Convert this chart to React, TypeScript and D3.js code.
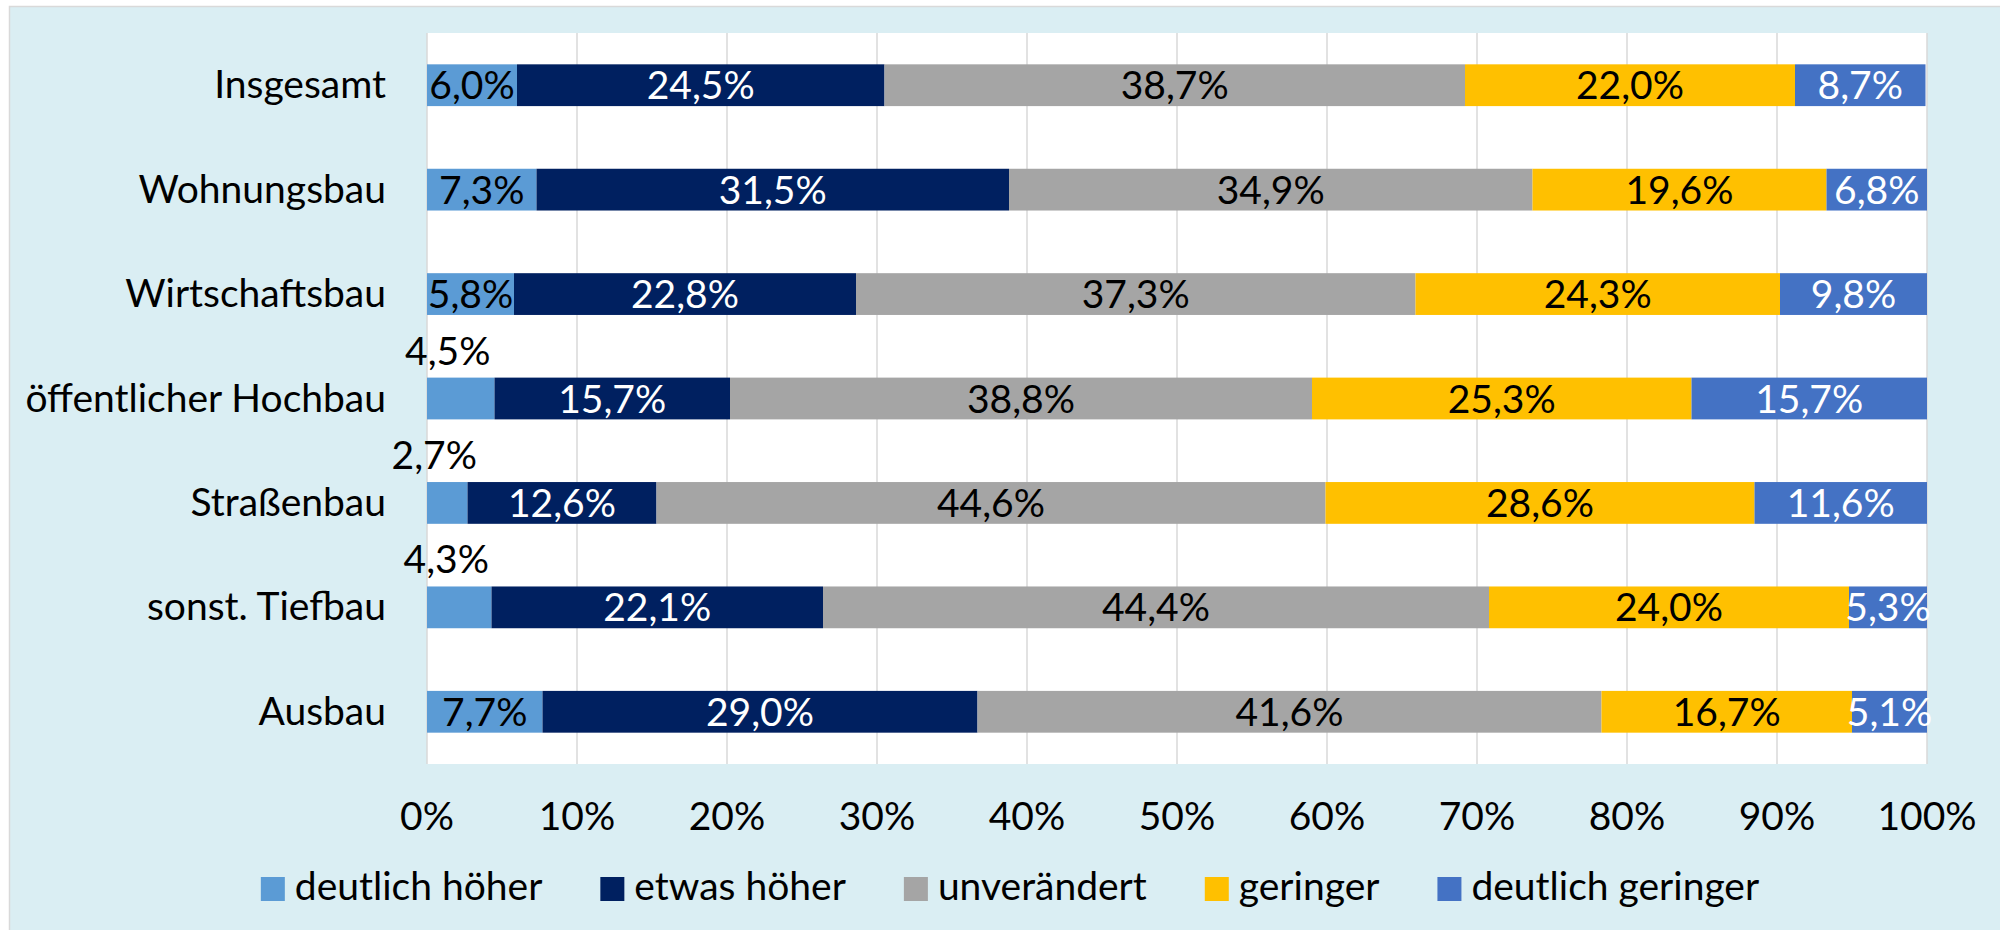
import React, { useLayoutEffect, useRef, useState } from "react";
import * as d3 from "d3";

const categories = [
  "Insgesamt",
  "Wohnungsbau",
  "Wirtschaftsbau",
  "öffentlicher Hochbau",
  "Straßenbau",
  "sonst. Tiefbau",
  "Ausbau",
];
const seriesNames = ["deutlich höher", "etwas höher", "unverändert", "geringer", "deutlich geringer"];
const deutlichHoeher = [6.0, 7.3, 5.8, 4.5, 2.7, 4.3, 7.7];
const etwasHoeher = [24.5, 31.5, 22.8, 15.7, 12.6, 22.1, 29.0];
const unveraendert = [38.7, 34.9, 37.3, 38.8, 44.6, 44.4, 41.6];
const geringer = [22.0, 19.6, 24.3, 25.3, 28.6, 24.0, 16.7];
const deutlichGeringer = [8.7, 6.8, 9.8, 15.7, 11.6, 5.3, 5.1];
const xTicks = [0, 10, 20, 30, 40, 50, 60, 70, 80, 90, 100];

const seriesValues = [deutlichHoeher, etwasHoeher, unveraendert, geringer, deutlichGeringer];
const colors = ["#5B9BD5", "#002060", "#A5A5A5", "#FFC000", "#4472C4"];
const labelColors = ["#000000", "#FFFFFF", "#000000", "#000000", "#FFFFFF"];

const W = 2000;
const H = 930;
const FONT = "Lato, 'Open Sans', sans-serif";
const FS = 39;

const fmt = (v: number) => v.toFixed(1).replace(".", ",") + "%";

export default function App() {
  const x = d3.scaleLinear().domain([0, 100]).range([427, 1927]);
  const y = d3
    .scaleBand<string>()
    .domain(categories)
    .range([33, 764])
    .paddingInner(0.6)
    .paddingOuter(0.3);

  const rows = categories.map((c, i) => {
    const obj: any = { cat: c };
    seriesNames.forEach((s, k) => (obj[s] = seriesValues[k][i]));
    return obj;
  });
  const stack = d3.stack<any>().keys(seriesNames)(rows);

  const legendRefs = useRef<(SVGTextElement | null)[]>([]);
  const [widths, setWidths] = useState<number[] | null>(null);
  useLayoutEffect(() => {
    const w = legendRefs.current.map((t) => (t ? t.getComputedTextLength() : 0));
    setWidths(w);
  }, []);

  const sq = 24;
  const sqGap = 10;
  const itemGap = 58;
  const legendCenter = 1010;
  let legendX: number[] = seriesNames.map(() => 0);
  if (widths) {
    const total = widths.reduce((a, w) => a + sq + sqGap + w, 0) + itemGap * (widths.length - 1);
    let cx = legendCenter - total / 2;
    legendX = widths.map((w) => {
      const p = cx;
      cx += sq + sqGap + w + itemGap;
      return p;
    });
  }

  const bw = y.bandwidth();

  return (
    <svg
      width={W}
      height={H}
      style={{ position: "absolute", left: 0, top: 0, display: "block", background: "#ffffff" }}
      fontFamily={FONT}
    >
      <rect x={9.5} y={6.5} width={W} height={H} fill="#DAEEF3" stroke="#D9D9D9" strokeWidth={1.5} />
      <rect x={x(0)} y={33} width={x(100) - x(0)} height={764 - 33} fill="#FFFFFF" />
      {xTicks.map((t) => (
        <line key={t} x1={x(t)} x2={x(t)} y1={33} y2={764} stroke="#D9D9D9" strokeWidth={1.5} />
      ))}
      {stack.map((layer, k) => (
        <g key={layer.key}>
          {layer.map((d, i) => {
            const x0 = Math.min(d[0], 100);
            const x1 = Math.min(d[1], 100);
            return (
              <rect
                key={i}
                x={x(x0)}
                y={y(categories[i])!}
                width={Math.max(0, x(x1) - x(x0))}
                height={bw}
                fill={colors[k]}
              />
            );
          })}
        </g>
      ))}
      {stack.map((layer, k) => (
        <g key={"l" + layer.key}>
          {layer.map((d, i) => {
            const v = seriesValues[k][i];
            const x0 = Math.min(d[0], 100);
            const x1 = Math.min(d[1], 100);
            const cx = (x(x0) + x(x1)) / 2;
            const top = y(categories[i])!;
            const cy = top + bw / 2;
            const above = k === 0 && v < 5;
            return (
              <text
                key={i}
                x={above ? cx - 13 : cx}
                y={above ? top - 13 : cy + 14}
                textAnchor="middle"
                fontSize={FS}
                fill={above ? "#000000" : labelColors[k]}
              >
                {fmt(v)}
              </text>
            );
          })}
        </g>
      ))}
      {categories.map((c) => (
        <text
          key={c}
          x={386}
          y={y(c)! + bw / 2 + 13}
          textAnchor="end"
          fontSize={FS}
          fill="#000000"
        >
          {c}
        </text>
      ))}
      {xTicks.map((t) => (
        <text key={"t" + t} x={x(t)} y={830} textAnchor="middle" fontSize={FS} fill="#000000">
          {t + "%"}
        </text>
      ))}
      {seriesNames.map((s, k) => (
        <g key={"lg" + s} opacity={widths ? 1 : 0}>
          <rect x={legendX[k]} y={877} width={sq} height={sq} fill={colors[k]} />
          <text
            ref={(el) => {
              legendRefs.current[k] = el;
            }}
            x={legendX[k] + sq + sqGap}
            y={900}
            fontSize={FS}
            fill="#000000"
          >
            {s}
          </text>
        </g>
      ))}
    </svg>
  );
}
